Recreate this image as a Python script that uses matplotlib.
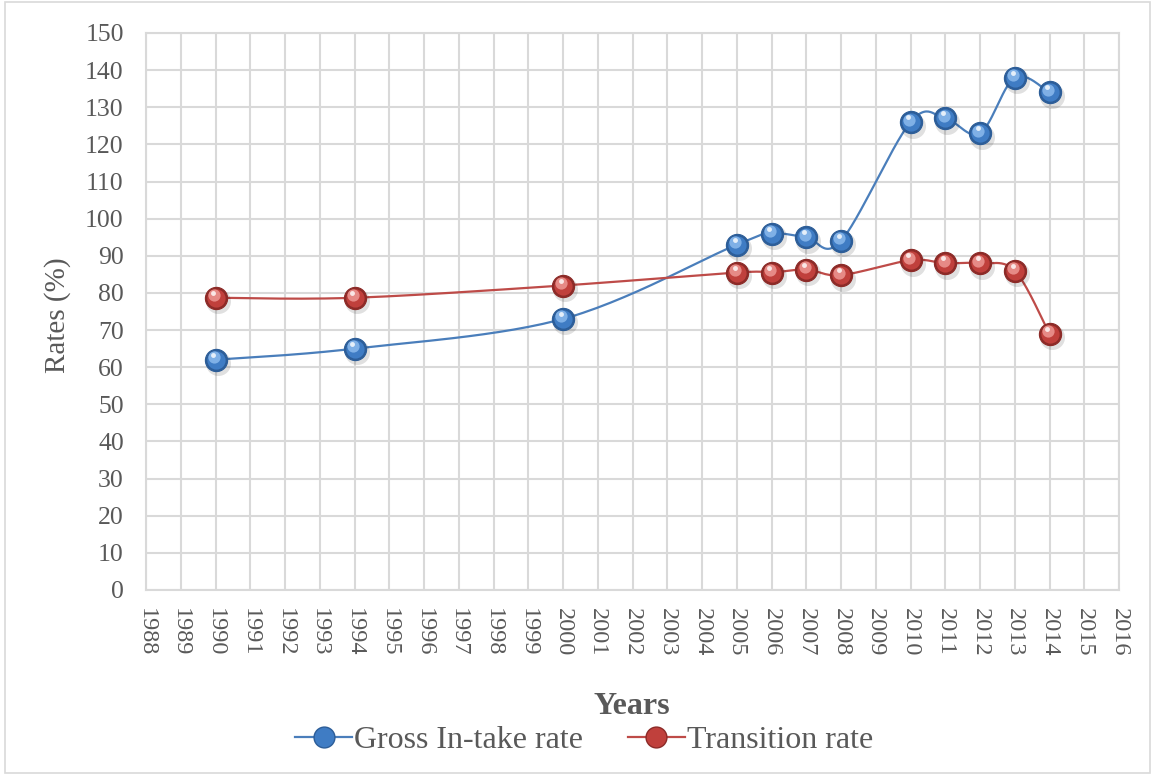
import numpy as np
import matplotlib.pyplot as plt
import matplotlib.transforms as mtransforms
from matplotlib.lines import Line2D

# data
years = [1990, 1994, 2000, 2005, 2006, 2007, 2008, 2010, 2011, 2012, 2013, 2014]
gross_intake = [62, 65, 73, 93, 96, 95, 94, 126, 127, 123, 138, 134]
transition = [78.7, 78.7, 82, 85.5, 85.5, 86.3, 84.8, 88.8, 88, 88, 86, 69]
x_ticks = list(range(1988, 2017))
y_ticks = list(range(0, 151, 10))

TEXT = '#595959'
GRID = '#d9d9d9'
plt.rcParams['font.family'] = ['Liberation Serif', 'DejaVu Serif']


def smooth(xs, ys, sx=34.75, sy=3.713, n=30):
    """Excel-like smoothed line (Catmull-Rom bezier) in screen-ish units."""
    p = np.column_stack([np.array(xs, float) * sx, np.array(ys, float) * sy])
    out = [p[0]]
    for i in range(len(p) - 1):
        p0 = p[i - 1] if i > 0 else p[i]
        p3 = p[i + 2] if i + 2 < len(p) else p[i + 1]
        c1 = p[i] + (p[i + 1] - p0) / 6
        c2 = p[i + 1] - (p3 - p[i]) / 6
        t = np.linspace(0, 1, n)[1:, None]
        seg = ((1 - t) ** 3 * p[i] + 3 * (1 - t) ** 2 * t * c1
               + 3 * (1 - t) * t ** 2 * c2 + t ** 3 * p[i + 1])
        out.extend(seg)
    out = np.array(out)
    return out[:, 0] / sx, out[:, 1] / sy


def sphere(ax, xs, ys, dark, mid, light, size=16):
    """Fake the glossy 3D ball markers."""
    shadow = mtransforms.offset_copy(ax.transData, fig=ax.figure, x=1.5, y=-2.5, units='points')
    ax.plot(xs, ys, 'o', ms=size + 2, color='#000000', alpha=0.12, mew=0,
            transform=shadow, zorder=4)
    ax.plot(xs, ys, 'o', ms=size, color=dark, mec=dark, mew=0.8, zorder=5)
    ax.plot(xs, ys, 'o', ms=size * 0.82, color=mid, mew=0, zorder=6)
    hl = mtransforms.offset_copy(ax.transData, fig=ax.figure, x=-1.2, y=1.8, units='points')
    ax.plot(xs, ys, 'o', ms=size * 0.55, color=light, mew=0, transform=hl, zorder=7)
    hl2 = mtransforms.offset_copy(ax.transData, fig=ax.figure, x=-1.5, y=3.6, units='points')
    ax.plot(xs, ys, 'o', ms=size * 0.22, color='white', alpha=0.8, mew=0, transform=hl2, zorder=8)


fig = plt.figure(figsize=(11.52, 7.75), dpi=100)
ax = fig.add_axes([146 / 1152, 1 - 590 / 775, (1119 - 146) / 1152, (590 - 33) / 775])

blue_line, red_line = '#4a7ebb', '#be4b48'
gx, gy = smooth(years, gross_intake)
tx, ty = smooth(years, transition)
ax.plot(gx, gy, color=blue_line, lw=1.6, zorder=3)
ax.plot(tx, ty, color=red_line, lw=1.6, zorder=3)
sphere(ax, years, gross_intake, '#2c5d98', '#3f7cc4', '#7fb0e6')
sphere(ax, years, transition, '#8c2a27', '#c0403c', '#e68a86')

ax.set_xlim(1988, 2016)
ax.set_ylim(0, 150)
ax.set_xticks(x_ticks)
ax.set_yticks(y_ticks)
ax.set_xticklabels([str(v) for v in x_ticks], rotation=-90, fontsize=17.5, color=TEXT)
ax.set_yticklabels([str(v) for v in y_ticks], fontsize=18.5, color=TEXT)
ax.tick_params(axis='y', length=0, pad=16)
ax.tick_params(axis='x', length=0, pad=13)
ax.grid(True, color=GRID, lw=1.5)
ax.set_axisbelow(True)
for s in ax.spines.values():
    s.set_color(GRID)
    s.set_linewidth(1.5)

fig.text(58 / 1152, 1 - 315 / 775, 'Rates (%)', ha='center', va='center', rotation=90,
         fontsize=21, color=TEXT)
fig.text(632 / 1152, 1 - 707 / 775, 'Years', ha='center', va='center',
         fontsize=23, fontweight='bold', color=TEXT)

handles = [
    Line2D([0], [0], color=blue_line, lw=1.6, marker='o', ms=15,
           mfc='#3f7cc4', mec='#2c5d98'),
    Line2D([0], [0], color=red_line, lw=1.6, marker='o', ms=15,
           mfc='#c0403c', mec='#8c2a27'),
]
leg = fig.legend(handles, ['Gross In-take rate', 'Transition rate'], loc='center',
                 bbox_to_anchor=(584 / 1152, 1 - 740 / 775), ncol=2, frameon=False,
                 fontsize=23, handlelength=1.8, handletextpad=0.05, columnspacing=1.4)
for t in leg.get_texts():
    t.set_color(TEXT)

# outer chart border
fig.patches.append(plt.Rectangle((0.004, 0.003), 0.994, 0.994, transform=fig.transFigure,
                                 fill=False, ec=GRID, lw=1.2))

fig.savefig('out.png', dpi=100)
